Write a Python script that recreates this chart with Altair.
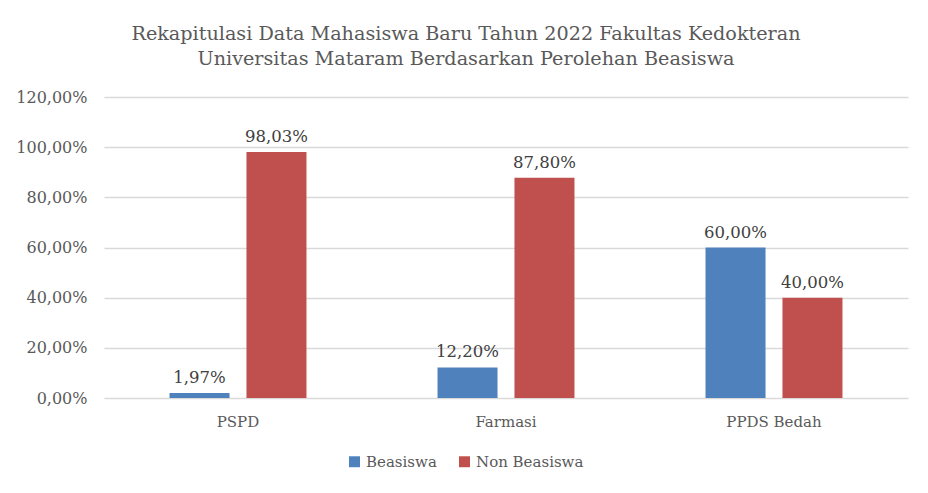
import altair as alt
import pandas as pd

categories = ["PSPD", "Farmasi", "PPDS Bedah"]
beasiswa = [0.0197, 0.1220, 0.6000]
non_beasiswa = [0.9803, 0.8780, 0.4000]
series = ["Beasiswa", "Non Beasiswa"]
colors = ["#4F81BD", "#C0504D"]

rows = []
for c, b, n in zip(categories, beasiswa, non_beasiswa):
    rows.append({"cat": c, "series": series[0], "value": b})
    rows.append({"cat": c, "series": series[1], "value": n})
df = pd.DataFrame(rows)
df["label"] = df["value"].map(lambda v: f"{v*100:.2f}%".replace(".", ","))

FONT = "DejaVu Serif"
GRAY = "#595959"

x = alt.X("cat:N", sort=categories, title=None,
          scale=alt.Scale(paddingInner=0.489, paddingOuter=0.2445),
          axis=alt.Axis(labelAngle=0, labelFontSize=15, labelColor=GRAY, labelFont=FONT,
                        domain=False, ticks=False, labelPadding=16))
xo = alt.XOffset("series:N", sort=series, scale=alt.Scale(paddingInner=0.22, paddingOuter=0))
y = alt.Y("value:Q", title=None,
          scale=alt.Scale(domain=[0, 1.2], nice=False),
          axis=alt.Axis(values=[0, 0.2, 0.4, 0.6, 0.8, 1.0, 1.2],
                        labelExpr="replace(format(datum.value, '.2%'), '.', ',')",
                        labelFontSize=16, labelColor=GRAY, labelFont=FONT,
                        domain=False, ticks=False, labelPadding=17,
                        gridColor="#D9D9D9", gridWidth=1.5))

base = alt.Chart(df)
bars = base.mark_bar().encode(
    x=x, xOffset=xo, y=y,
    color=alt.Color("series:N", sort=series,
                    scale=alt.Scale(domain=series, range=colors),
                    legend=alt.Legend(title=None, orient="none", direction="horizontal",
                                      legendX=243, legendY=357, symbolType="square",
                                      symbolSize=120, labelFontSize=15, labelFont=FONT,
                                      labelColor=GRAY, columnPadding=20, symbolStrokeWidth=0)),
)
text = base.mark_text(dy=-15, fontSize=16.5, font=FONT, color="#404040").encode(
    x=alt.X("cat:N", sort=categories), xOffset=xo, y="value:Q", text="label:N"
)

chart = (bars + text).properties(
    width=804, height=301,
    background="white",
    padding={"left": 96, "top": 89, "right": 12, "bottom": 87},
    autosize=alt.AutoSizeParams(type="none"),
    title=alt.TitleParams(
        ["Rekapitulasi Data Mahasiswa Baru Tahun 2022 Fakultas Kedokteran",
         "Universitas Mataram Berdasarkan Perolehan Beasiswa"],
        fontSize=19.2, font=FONT, color=GRAY, fontWeight="normal",
        anchor="middle", dx=-40, offset=20, lineHeight=25,
    ),
).configure_view(strokeOpacity=0, strokeWidth=0)

chart.save("out.html", embed_options={"renderer": "svg", "actions": False})
